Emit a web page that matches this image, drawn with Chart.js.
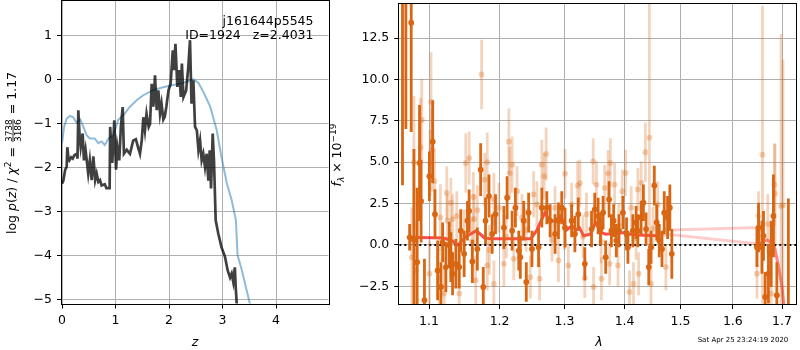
<!DOCTYPE html>
<html>
<head>
<meta charset="utf-8">
<script src="https://cdn.jsdelivr.net/npm/chart.js@4.4.0/dist/chart.umd.min.js"></script>
<style>
  body { margin: 0; background: #fff; width: 800px; height: 350px; overflow: hidden; position: relative; }
  canvas { position: absolute; top: 0; }
</style>
</head>
<body>
<canvas id="pz" width="340" height="350" style="left:0"></canvas>
<canvas id="spec" width="480" height="350" style="left:320px"></canvas>
<script>
// --- p(z) panel ---
const zLimits = [0, 4.98];
const lpLimits = [-5.09, 1.78];
const zTicks = [0, 1, 2, 3, 4];
const lpTicks = [-5, -4, -3, -2, -1, 0, 1];

const zBlack = [0.0, 0.025, 0.06, 0.087, 0.1, 0.12, 0.137, 0.17, 0.2, 0.23, 0.274, 0.29, 0.305, 0.33, 0.35, 0.386, 0.41, 0.44, 0.49, 0.52,
  0.555, 0.586, 0.62, 0.648, 0.68, 0.71, 0.74, 0.8, 0.83, 0.89, 0.9, 0.94, 0.977, 1.01, 1.035, 1.07, 1.1, 1.134, 1.157, 1.21,
  1.27, 1.33, 1.38, 1.42, 1.457, 1.49, 1.52, 1.55, 1.58, 1.62, 1.645, 1.676, 1.707, 1.738, 1.77, 1.8, 1.832, 1.86, 1.894, 1.92,
  1.95, 1.99, 2.03, 2.07, 2.09, 2.12, 2.155, 2.19, 2.22, 2.24, 2.27, 2.32, 2.36, 2.392, 2.42, 2.455, 2.486, 2.52, 2.55, 2.58,
  2.61, 2.64, 2.672, 2.703, 2.735, 2.76, 2.785, 2.816, 2.84, 2.872, 2.92, 2.98, 3.046, 3.096, 3.14, 3.17, 3.2, 3.23, 3.245, 3.265, 3.28];
const lpBlack = [-2.37, -2.3, -2.05, -1.99, -1.54, -1.8, -1.84, -1.77, -1.8, -1.72, -1.69, -1.8, -0.7, -1.3, -1.54, -1.23, -1.84, -1.6, -2.14, -1.84,
  -2.29, -1.75, -2.29, -2.14, -2.33, -2.29, -2.41, -2.38, -2.47, -2.47, -1.08, -1.9, -0.93, -2.05, -1.54, -1.84, -1.08, -0.63, -1.69, -1.6,
  -1.69, -1.39, -1.36, -1.54, -1.69, -1.39, -0.86, -1.16, -0.78, -1.08, -1.01, -0.1, -0.62, 0.09, -0.7, -0.25, -0.78, -0.55, -0.91, -0.85,
  -0.62, -0.25, -0.1, 0.66, 0.21, 0.81, -0.17, 0.21, -0.4, 0.36, -0.4, -0.25, 0.28, 0.89, -0.55, -0.02, -1.08, -1.16, -1.61, -1.39,
  -1.84, -1.69, -1.99, -1.69, -2.3, -1.61, -2.48, -1.23, -1.84, -3.2, -3.5, -3.81, -4.03, -4.34, -4.5, -4.41, -4.6, -4.27, -4.7, -5.09, -5.5];

const zBlue = [0.0, 0.04, 0.087, 0.15, 0.21, 0.27, 0.34, 0.4, 0.46, 0.52, 0.61, 0.68, 0.74, 0.8, 0.87, 0.96, 1.05, 1.15, 1.27, 1.4,
  1.52, 1.71, 1.89, 2.08, 2.24, 2.39, 2.455, 2.55, 2.64, 2.77, 2.89, 2.98, 3.08, 3.17, 3.25, 3.28, 3.36, 3.45, 3.51, 3.55];
const lpBlue = [-1.45, -1.08, -0.89, -0.83, -0.86, -0.98, -0.91, -1.08, -1.27, -1.34, -1.34, -1.45, -1.41, -1.49, -1.34, -1.27, -0.92, -0.81, -0.62, -0.47,
  -0.36, -0.24, -0.18, -0.13, -0.09, -0.02, 0.0, -0.08, -0.28, -0.62, -1.15, -1.76, -2.36, -2.74, -3.2, -3.99, -4.33, -4.79, -5.09, -5.3];

// --- spectrum panel ---
const lamLimits = [1.0604, 1.7296];
const fluxLimits = [-3.57, 14.56];
const lamTicks = [1.1, 1.2, 1.3, 1.4, 1.5, 1.6, 1.7];
const fluxTicks = [-2.5, 0, 2.5, 5, 7.5, 10, 12.5];

const lamDark = [1.0646, 1.069, 1.0761, 1.074, 1.0797, 1.084, 1.0872, 1.0893, 1.0938, 1.1005, 1.105, 1.1081, 1.1117, 1.1163, 1.1186, 1.1231, 1.1278, 1.13, 1.1324, 1.137,
  1.1417, 1.1439, 1.1487, 1.1534, 1.1558, 1.1604, 1.1675, 1.1723, 1.1761, 1.1794, 1.1844, 1.1891, 1.194, 1.2064, 1.2112, 1.2187, 1.2236, 1.2287, 1.2311, 1.2362,
  1.2402, 1.2438, 1.2489, 1.2591, 1.2642, 1.272, 1.2772, 1.285, 1.2904, 1.2956, 1.3009, 1.3115, 1.3168, 1.3223, 1.333, 1.3441, 1.3495, 1.3551, 1.359, 1.3634,
  1.3678, 1.3735, 1.3774, 1.3813, 1.3858, 1.3904, 1.3972, 1.4034, 1.4058, 1.4144, 1.4201, 1.4231, 1.4289, 1.4329, 1.4376, 1.4424, 1.4464, 1.4523, 1.4566, 1.4612,
  1.4661, 1.4702, 1.4763, 1.4804, 1.484, 1.6483, 1.6515, 1.6584, 1.6616, 1.6651, 1.6718, 1.6774, 1.6821, 1.6892, 1.7134];
const fluxDark = [16.0, 16.0, 13.43, 0.46, 0.3, -1.04, 4.95, 2.65, -3.34, 4.15, 6.24, 1.86, -1.54, -2.54, 0.16, -1.34, 0.0, -0.74, -1.74, -1.14,
  -1.34, 0.86, -0.54, 1.46, 2.05, -1.0, -0.24, 4.55, -2.54, 1.46, 2.95, 0.66, 1.86, 1.05, 2.85, 0.86, 2.25, -0.34, -0.74, 1.46,
  -2.24, 1.95, -0.24, -0.14, 2.25, 2.25, 1.46, 0.66, 1.46, 2.25, 1.05, 1.46, 0.66, 1.86, -1.14, 0.96, 2.15, 1.75, 0.96, 1.95,
  -0.74, 2.75, 0.86, 1.46, 0.26, 0.86, 1.95, 0.66, -0.14, 0.86, 1.36, 0.86, 1.66, 2.55, 0.96, -1.34, -0.14, 3.59, 1.36, 0.26,
  -0.24, 1.95, 1.66, 2.25, -0.54, -0.14, 1.05, -0.14, 0.55, -3.14, -1.74, -0.54, 1.75, -3.04, -4.6];
const errDark = [12.4, 9.0, 6.6, 0.8, 5.5, 4.5, 3.5, 2.5, 2.5, 1.5, 2.5, 1.5, 1.8, 1.5, 1.2, 1.5, 1.4, 1.5, 1.3, 1.5,
  1.3, 1.3, 1.4, 1.2, 1.3, 1.3, 1.3, 1.6, 1.2, 1.4, 1.3, 1.2, 1.2, 1.3, 1.3, 1.2, 1.2, 1.2, 1.3, 1.2,
  1.2, 1.2, 1.1, 1.2, 1.2, 1.0, 1.0, 1.2, 1.1, 1.0, 1.2, 1.0, 1.1, 1.0, 1.0, 1.1, 1.0, 1.1, 1.0, 1.0,
  1.0, 1.1, 1.0, 1.0, 1.0, 1.0, 1.0, 1.0, 1.0, 1.0, 1.0, 1.0, 1.0, 1.1, 1.0, 1.1, 1.0, 1.2, 1.1, 1.0,
  1.1, 1.3, 1.3, 1.4, 1.5, 1.2, 1.5, 1.6, 1.5, 1.5, 1.8, 2.0, 2.5, 2.0, 7.4];

const lamLight = [1.0902, 1.0885, 1.0797, 1.1027, 1.104, 1.1013, 1.1073, 1.1155, 1.1243, 1.1253, 1.13, 1.1324, 1.1383, 1.1487, 1.151, 1.1558, 1.1618, 1.1628, 1.1675, 1.1737,
  1.178, 1.1819, 1.1916, 1.077, 1.0827, 1.1005, 1.1141, 1.1208, 1.1417, 1.1651, 1.1819, 1.1916, 1.199, 1.2064, 1.2138, 1.2152, 1.2187, 1.2212, 1.2261, 1.2336,
  1.2463, 1.2515, 1.2565, 1.2607, 1.2642, 1.2678, 1.2709, 1.285, 1.2904, 1.3009, 1.3062, 1.3115, 1.3212, 1.325, 1.333, 1.3358, 1.3469, 1.3475, 1.3523, 1.3606,
  1.3661, 1.3718, 1.3745, 1.3757, 1.3829, 1.3887, 1.396, 1.4017, 1.4086, 1.4115, 1.4155, 1.4231, 1.4245, 1.4289, 1.4364, 1.4435, 1.4464, 1.4584, 1.4732, 1.6483,
  1.6515, 1.6596, 1.6705, 1.6774, 1.6842, 1.6856, 1.698, 1.7022, 1.21, 1.24, 1.28, 1.30, 1.33, 1.36, 1.39, 1.42, 1.45, 1.13, 1.16, 1.185];
const fluxLight = [7.54, 5.9, 5.0, 8.64, 5.75, 4.95, 3.85, 1.66, 3.15, 1.46, 2.55, 1.56, 1.75, 0.66, 4.95, 5.25, 2.9, 1.56, 2.1, 10.3,
  3.95, 5.0, 2.75, -0.74, -1.54, -1.74, -2.04, -2.94, -2.94, -2.14, -1.24, -2.34, 2.25, -1.14, 6.24, 4.33, 4.85, -0.84, 3.25, 1.66,
  -1.94, 3.05, 2.45, -2.04, 4.85, 4.15, 5.5, 2.25, -0.94, 4.3, -1.24, 2.45, 3.58, 3.74, -2.0, 1.86, 5.05, -2.54, 3.65, -2.04,
  3.45, 4.33, -1.14, 4.95, 3.65, -1.24, 3.25, 4.35, -2.84, 2.25, -2.34, 3.35, -1.74, 3.75, 5.6, 6.49, -2.34, 2.45, -1.34, -1.74,
  1.75, 5.45, 1.26, -2.94, 3.65, 3.1, 2.35, 2.4, 0.5, 0.9, 0.3, 1.0, 0.5, 0.2, 1.2, 0.4, 1.0, -0.5, 0.2, -0.3];
const errLight = [2.5, 3, 4, 3, 2.5, 2, 2, 2, 1.6, 1.6, 1.5, 1.5, 1.5, 1.5, 1.8, 1.6, 1.5, 1.5, 1.5, 2.1,
  1.6, 1.8, 1.6, 3, 3, 2, 1.8, 1.6, 1.5, 1.5, 1.5, 1.4, 1.5, 1.4, 2, 1.6, 1.7, 1.3, 1.5, 1.4,
  1.3, 1.4, 1.4, 1.3, 1.5, 1.4, 1.6, 1.3, 1.3, 1.5, 1.3, 1.3, 1.5, 1.4, 1.2, 1.3, 1.4, 1.2, 1.4, 1.3,
  1.4, 1.4, 1.3, 1.5, 1.3, 1.3, 1.3, 1.4, 1.3, 1.3, 1.3, 1.3, 1.3, 1.3, 1.8, 8.1, 1.4, 1.4, 1.4, 1.5,
  1.5, 9, 1.8, 2, 2.5, 3, 10.4, 8.8, 1.3, 1.3, 1.3, 1.3, 1.3, 1.3, 1.3, 1.3, 1.3, 1.5, 1.5, 1.5];

// model inside the good range (red)
const lamModel = [1.072, 1.119, 1.13, 1.14, 1.15, 1.166, 1.178, 1.187, 1.247, 1.256, 1.269, 1.277, 1.285, 1.294, 1.303, 1.312, 1.319, 1.324, 1.331, 1.342,
  1.351, 1.36, 1.368, 1.4, 1.41, 1.42, 1.459];
const fluxModel = [0.46, 0.42, 0.3, 0.0, 0.46, 0.86, 0.42, 0.38, 0.38, 0.86, 1.95, 1.45, 1.45, 1.75, 0.9, 1.15, 0.9, 1.05, 0.55, 0.65,
  1.35, 0.75, 0.65, 0.75, 0.65, 0.6, 0.55];
// full model, unsorted (pink)
const lamFull = [1.455, 1.468, 1.476, 1.484, 1.652, 1.6, 1.46, 1.476, 1.652, 1.669, 1.683, 1.693, 1.7, 1.705];
const fluxFull = [0.55, 0.8, 1.0, 0.9, 1.05, null, 0.5, 0.65, 0.06, 0.3, 0.06, -1.34, -2.54, -4.0];
const lamTail = [1.652, 1.669, 1.683, 1.693, 1.7, 1.705];
const fluxTail = [0.06, 0.3, 0.06, -1.34, -2.54, -4.0];
const fluxZero = [0, 0];

const FONT = '"DejaVu Sans", sans-serif';
const pts = (xs, ys) => xs.map((x, i) => ({ x: x, y: ys[i] }));
const minus = s => String(s).replace('-', '\u2212');

// error bars drawn just before the points of their dataset
const errorBars = {
  id: 'errorBars',
  beforeDatasetDraw(chart, args) {
    const ds = chart.data.datasets[args.index];
    if (!ds.errors) return;
    const { ctx, chartArea: a, scales: { x, y } } = chart;
    ctx.save();
    ctx.beginPath();
    ctx.rect(a.left, a.top, a.right - a.left, a.bottom - a.top);
    ctx.clip();
    ctx.strokeStyle = ds.barColor;
    ctx.lineWidth = 2.8;
    ds.data.forEach((p, i) => {
      const px = x.getPixelForValue(p.x);
      ctx.beginPath();
      ctx.moveTo(px, y.getPixelForValue(p.y - ds.errors[i]));
      ctx.lineTo(px, y.getPixelForValue(p.y + ds.errors[i]));
      ctx.stroke();
    });
    ctx.restore();
  }
};

// box round the axes
const spines = {
  id: 'spines',
  afterDraw(chart) {
    const { ctx, chartArea: a } = chart;
    ctx.save();
    ctx.strokeStyle = '#000';
    ctx.lineWidth = 1;
    ctx.strokeRect(Math.round(a.left) - 0.5, Math.round(a.top) - 0.5, Math.round(a.right - a.left) + 1, Math.round(a.bottom - a.top) + 1);
    ctx.restore();
  }
};

// text made of pieces (italic, sub/superscript, fraction)
function drawParts(ctx, parts, cx, cy, vertical) {
  ctx.save();
  ctx.translate(cx, cy);
  if (vertical) ctx.rotate(-Math.PI / 2);
  ctx.fillStyle = '#000';
  ctx.textBaseline = 'alphabetic';
  const widths = parts.map(p => {
    ctx.font = p.font;
    if (p.num) return Math.max(ctx.measureText(p.num).width, ctx.measureText(p.den).width) + 2;
    return ctx.measureText(p.t).width;
  });
  let x = -widths.reduce((a, b) => a + b, 0) / 2;
  parts.forEach((p, i) => {
    ctx.font = p.font;
    if (p.num) {
      ctx.textAlign = 'center';
      ctx.fillText(p.num, x + widths[i] / 2, p.numY);
      ctx.fillText(p.den, x + widths[i] / 2, p.denY);
      ctx.fillRect(x + 1, p.barY, widths[i] - 2, 0.8);
    } else {
      ctx.textAlign = 'left';
      ctx.fillText(p.t, x, p.dy || 0);
    }
    x += widths[i];
  });
  ctx.restore();
}

const F = '12.5px ' + FONT, I = 'italic 12.5px ' + FONT, S = '9px ' + FONT, SI = 'italic 9px ' + FONT;

const pzText = {
  id: 'pzText',
  afterDraw(chart) {
    const ctx = chart.ctx;
    drawParts(ctx, [
      { t: 'log ', font: F }, { t: 'p', font: I }, { t: '(', font: F }, { t: 'z', font: I }, { t: ') / ', font: F },
      { t: '\u03c7', font: I }, { t: '2', font: S, dy: -5 }, { t: ' = ', font: F },
      { num: '3738', den: '3186', font: S, numY: -4.4, denY: 5.2, barY: -3.4 }, { t: ' = 1.17', font: F }
    ], 16, 153, true);
    drawParts(ctx, [{ t: 'z', font: I }], 195, 345.5, false);
    ctx.save();
    ctx.font = F;
    ctx.fillStyle = '#000';
    ctx.textAlign = 'right';
    ctx.textBaseline = 'alphabetic';
    ctx.fillText('j161644p5545', 313.5, 25.3);
    ctx.fillText('ID=1924   z=2.4031', 313.5, 39.4);
    ctx.restore();
  }
};

const specText = {
  id: 'specText',
  afterDraw(chart) {
    const ctx = chart.ctx;
    drawParts(ctx, [
      { t: 'f', font: I }, { t: '\u03bb', font: SI, dy: 2.8 }, { t: ' \u00d7 10', font: F }, { t: '\u221219', font: S, dy: -5 }
    ], 21, 155, true);
    drawParts(ctx, [{ t: '\u03bb', font: I }], 279, 346, false);
    ctx.save();
    ctx.font = '7px ' + FONT;
    ctx.fillStyle = '#000';
    ctx.textAlign = 'center';
    ctx.fillText('Sat Apr 25 23:24:19 2020', 423, 342);
    ctx.restore();
  }
};

function axis(type, lim, tickVals, fmt, fit) {
  return {
    type: type, min: lim[0], max: lim[1],
    afterBuildTicks: s => { s.ticks = tickVals.map(v => ({ value: v })); },
    afterFit: s => {
      fit(s);
      // the limits are not ticks, so no label hangs over the ends
      s.paddingTop = 0; s.paddingBottom = 0; s.paddingLeft = 0; s.paddingRight = 0;
    },
    grid: { color: '#b0b0b0', lineWidth: 1, tickColor: '#000', tickLength: 5, tickWidth: 1 },
    border: { display: false },
    ticks: { color: '#000', font: { family: FONT, size: 12.5 }, padding: 5, maxRotation: 0, autoSkip: false, callback: fmt }
  };
}

const common = {
  responsive: false, animation: false, events: [],
  plugins: { legend: { display: false }, tooltip: { enabled: false } }
};

new Chart(document.getElementById('pz'), {
  type: 'scatter',
  data: {
    datasets: [
      { data: pts(zBlack, lpBlack), showLine: true, borderColor: 'rgba(0,0,0,0.75)', borderWidth: 2.7, pointRadius: 0 },
      { data: pts(zBlue, lpBlue), showLine: true, borderColor: 'rgba(31,119,180,0.5)', borderWidth: 2, pointRadius: 0 }
    ]
  },
  options: Object.assign({}, common, {
    layout: { padding: { top: 1, right: 11.5, bottom: 0, left: 0 } },
    scales: {
      x: axis('linear', zLimits, zTicks, v => String(v), s => { s.height = 46.5; }),
      y: axis('linear', lpLimits, lpTicks, v => minus(v), s => { s.width = 62; })
    }
  }),
  plugins: [spines, pzText]
});

new Chart(document.getElementById('spec'), {
  type: 'scatter',
  data: {
    datasets: [
      { data: pts(lamLight, fluxLight), errors: errLight, barColor: 'rgba(217,102,18,0.28)',
        pointRadius: 2.9, pointBackgroundColor: 'rgba(217,102,18,0.3)', pointBorderWidth: 0 },
      { data: pts(lamDark, fluxDark), errors: errDark, barColor: 'rgb(217,102,18)',
        pointRadius: 2.9, pointBackgroundColor: 'rgb(217,102,18)', pointBorderWidth: 0 },
      { data: pts(lamFull, fluxFull), showLine: true, borderColor: 'rgba(255,0,0,0.2)', borderWidth: 3, pointRadius: 0 },
      { data: pts(lamTail, fluxTail), showLine: true, borderColor: 'rgba(255,0,0,0.35)', borderWidth: 3, pointRadius: 0 },
      { data: pts(lamModel, fluxModel), showLine: true, borderColor: 'rgba(255,0,0,0.7)', borderWidth: 3, pointRadius: 0 },
      { data: pts(lamLimits, fluxZero), showLine: true, borderColor: '#000', borderWidth: 2, borderDash: [2, 3], pointRadius: 0 }
    ]
  },
  options: Object.assign({}, common, {
    layout: { padding: { top: 1, right: 1, bottom: 0, left: 0 } },
    scales: {
      x: axis('logarithmic', lamLimits, lamTicks, v => Number(v).toFixed(1), s => { s.height = 46; }),
      y: axis('linear', fluxLimits, fluxTicks, v => minus(Number(v).toFixed(1)), s => { s.width = 79.3; })
    }
  }),
  plugins: [errorBars, spines, specText]
});
</script>
</body>
</html>
